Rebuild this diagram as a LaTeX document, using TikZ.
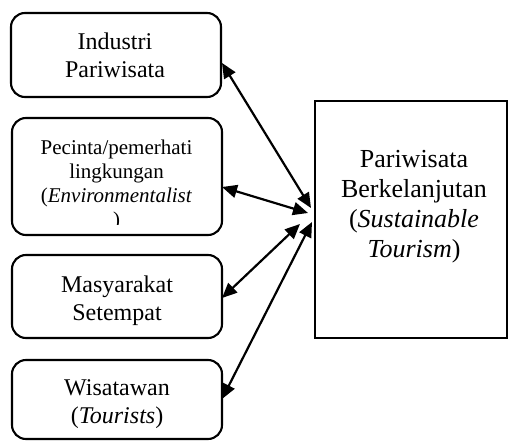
\documentclass[tikz,border=0pt]{standalone}
\usepackage{fontspec}
\setmainfont{Liberation Serif}
\usetikzlibrary{arrows.meta}
\begin{document}
\begin{tikzpicture}[x=1pt,y=-1pt,
  rbox/.style={draw, line width=2.1pt, rounded corners=14pt, minimum width=210pt, inner sep=0pt},
  sbox/.style={draw, line width=2.1pt, inner sep=0pt, minimum width=192pt, minimum height=237pt},
  txt/.style={inner sep=0pt, align=center},
  link/.style={line width=2.2pt, {Triangle[length=15pt,width=13pt]}-{Triangle[length=15pt,width=13pt]}}]
\useasboundingbox (0,0) rectangle (508,441);
% left boxes
\node[rbox, minimum height=84pt] (b1) at (116,55) {};
\node[rbox, minimum height=117pt] (b2) at (117,176.5) {};
\node[rbox, minimum height=83pt] (b3) at (117,296.5) {};
\node[rbox, minimum height=79pt] (b4) at (117,399.5) {};
% right box
\node[sbox] (r) at (411,219.5) {};
% texts
\node[txt, font=\fontsize{24}{27.5}\selectfont] (t1) at (115,58) {\strut Industri\\\strut Pariwisata};
\begin{scope}
\clip (20,120) rectangle (215,224);
\node[txt, font=\fontsize{21}{24}\selectfont] (t2) at (116.5,185.2) {\strut Pecinta/pemerhati\\\strut lingkungan\\\strut (\textit{Environmentalist}\\\strut )};
\end{scope}
\node[txt, font=\fontsize{24}{28}\selectfont] (t3) at (117,300.4) {\strut Masyarakat\\\strut Setempat};
\node[txt, font=\fontsize{24}{28}\selectfont] (t4) at (117,403.4) {\strut Wisatawan\\\strut (\textit{Tourists})};
\node[txt, font=\fontsize{26}{30}\selectfont] (tr) at (414,206.5) {\strut Pariwisata\\\strut Berkelanjutan\\\strut (\textit{Sustainable}\\\strut \textit{Tourism})};
% connector ends
\coordinate (s1) at (222,63);
\coordinate (s2) at (222,187);
\coordinate (s3) at (222,298);
\coordinate (s4) at (222,399);
\coordinate (e1) at (311,208);
\coordinate (e2) at (308,213);
\coordinate (e3) at (300,224);
\coordinate (e4) at (312,222);
\draw[link] (s1) -- (e1);
\draw[link] (s2) -- (e2);
\draw[link] (s3) -- (e3);
\draw[link] (s4) -- (e4);
\end{tikzpicture}
\end{document}
